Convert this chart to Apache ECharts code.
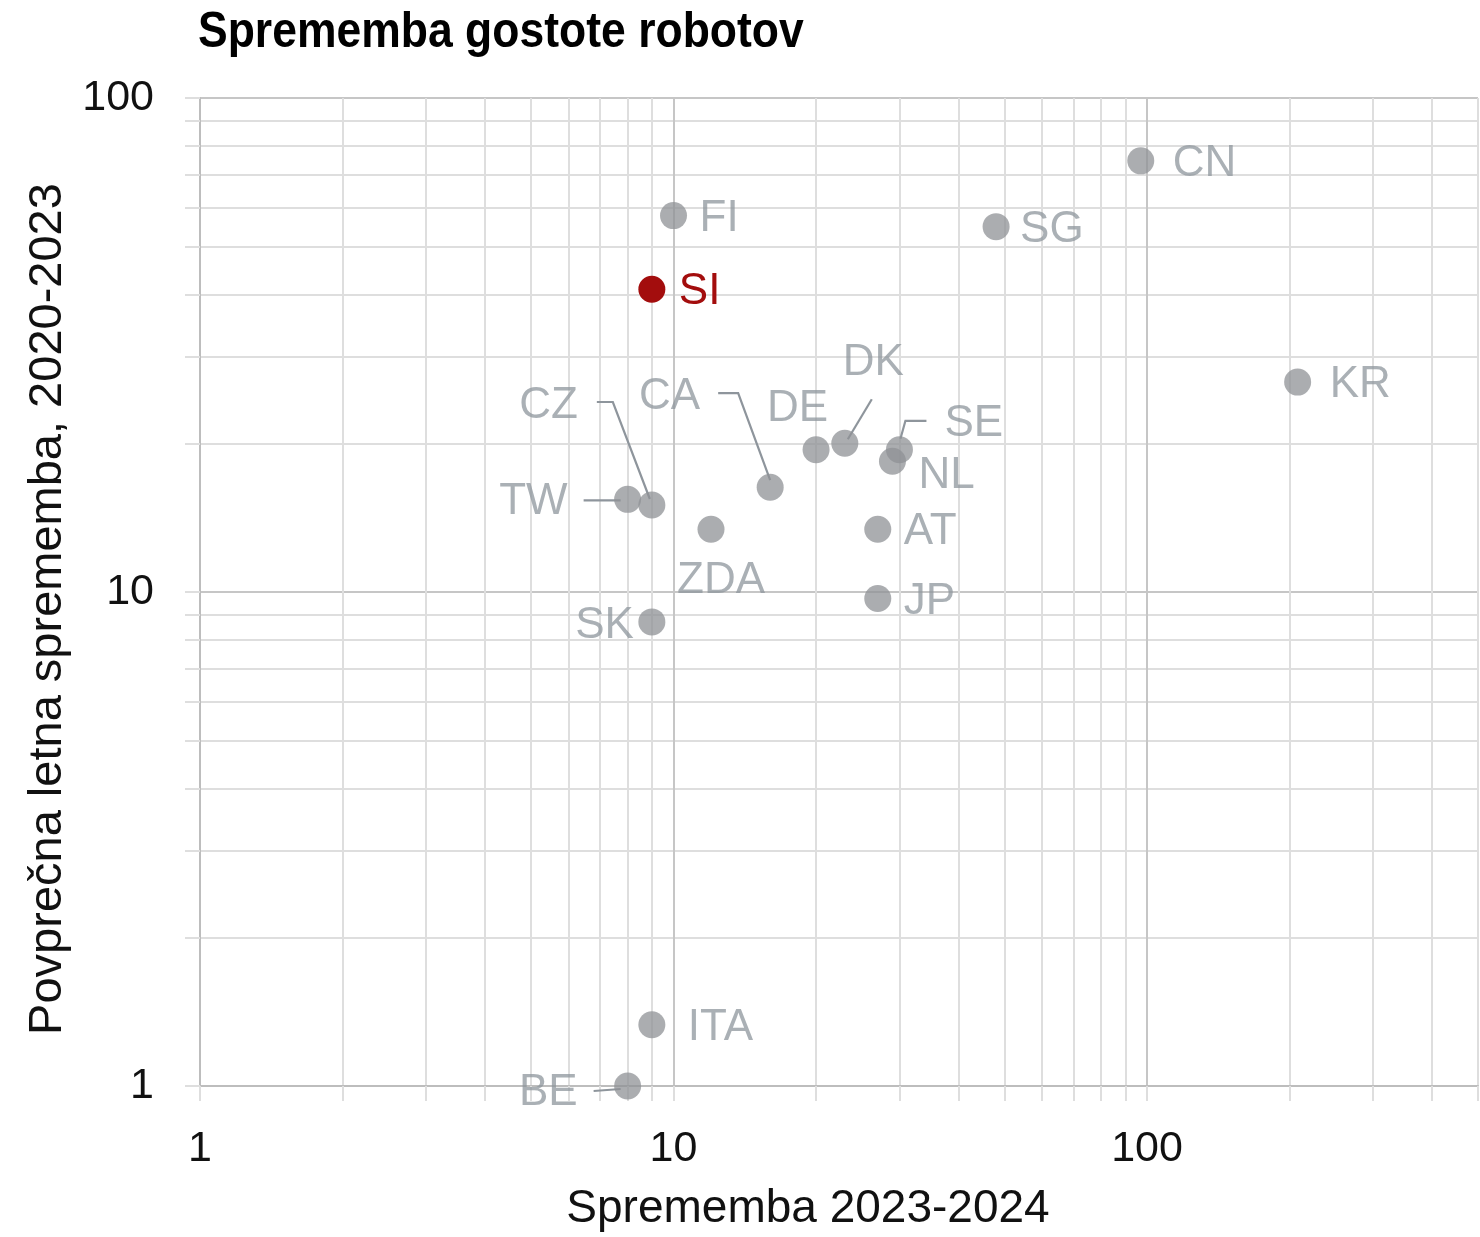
<!DOCTYPE html>
<html><head><meta charset="utf-8">
<script src="https://cdn.jsdelivr.net/npm/echarts@6/dist/echarts.min.js"></script>
<style>html,body{margin:0;padding:0;background:#fff}#c{width:1480px;height:1237px}</style>
</head><body><div id="c"></div>
<script>
// ---- data ----
const countries    = ['CN','SG','FI','SI','KR','DK','DE','SE','NL','CA','TW','CZ','ZDA','AT','JP','SK','ITA','BE'];
const change2324   = [97, 48, 10, 9, 208, 23, 20, 30, 29, 16, 8, 9, 12, 27, 27, 9, 9, 8];
const avgChange    = [74.6, 54.9, 57.8, 41.0, 26.6, 20.0, 19.4, 19.4, 18.4, 16.3, 15.4, 15.0, 13.4, 13.4, 9.7, 8.7, 1.33, 1.0];
const highlighted  = ['SI'];
const gridValuesX  = [1,2,3,4,5,6,7,8,9,10,20,30,40,50,60,70,80,90,100,200,300,400,500];
const gridValuesY  = [1,2,3,4,5,6,7,8,9,10,20,30,40,50,60,70,80,90,100];
const xTickLabels  = [1,10,100];
const yTickLabels  = [1,10,100];

// ---- styling (label placement in px relative to point centre) ----
const labelPlace = {
  CN:{align:'left',dx:32,dy:3}, SG:{align:'left',dx:24,dy:3}, FI:{align:'left',dx:26,dy:3},
  SI:{align:'left',dx:27,dy:3}, KR:{align:'left',dx:32,dy:3}, AT:{align:'left',dx:26,dy:3},
  JP:{align:'left',dx:26,dy:3}, ITA:{align:'left',dx:36,dy:3}, NL:{align:'left',dx:26,dy:15},
  SE:{align:'left',dx:45,dy:-26}, SK:{align:'right',dx:-18,dy:4}, TW:{align:'right',dx:-60,dy:2},
  BE:{align:'right',dx:-50,dy:7}, CZ:{align:'right',dx:-74,dy:-99}, CA:{align:'right',dx:-70,dy:-90},
  DE:{align:'right',dx:12,dy:-41}, DK:{align:'left',dx:-2,dy:-80}, ZDA:{align:'left',dx:-34,dy:52}
};
const leaders = {
  DK:[[27,-44],[3,-4]],
  SE:[[27,-29],[6,-29],[1,-11]],
  TW:[[-44,1],[-7,1]],
  CZ:[[-55,-103],[-39,-103],[-2,-6]],
  CA:[[-52,-94],[-32,-94],[0,-7]],
  BE:[[-34,5],[-7,3]]
};
const GRAY = '#8e959c';
const FONT = "'Liberation Sans', Arial, sans-serif";
const MAJOR = '#c6c6c6', MINOR = '#dedede';

const chart = echarts.init(document.getElementById('c'), null, {renderer:'canvas'});

const data = countries.map((c,i)=>{
  const hi = highlighted.includes(c);
  const lp = labelPlace[c];
  return {
    name:c, value:[change2324[i], avgChange[i]],
    itemStyle:{color: hi ? '#a30d0d' : '#8f9296', opacity: hi ? 1 : 0.75},
    label:{show:true, formatter:c, position:'inside', align:lp.align, verticalAlign:'middle',
      offset:[lp.dx, lp.dy], color: hi ? '#a30d0d' : GRAY, fontSize:44, fontFamily:FONT}
  };
});

const axisCommon = (name)=>({
  type:'log', logBase:10,
  axisLine:{show:true, onZero:false, lineStyle:{color:'#bdbdbd', width:2}},
  axisTick:{show:true, length:15, lineStyle:{color:MINOR, width:2}},
  splitLine:{show:true, lineStyle:{color:[MAJOR,MINOR,MINOR,MINOR,MINOR,MINOR,MINOR,MINOR,MINOR], width:2}},
  minorTick:{show:false}, minorSplitLine:{show:false},
  axisLabel:{fontSize:43, color:'#111', fontFamily:FONT},
  name:name, nameLocation:'middle',
  nameTextStyle:{fontSize:46, color:'#111', fontFamily:FONT}
});

const xA = axisCommon('Sprememba 2023-2024');
xA.min = 1; xA.max = 500;
xA.axisTick.customValues = gridValuesX;
xA.axisLabel.customValues = xTickLabels;
xA.axisLabel.margin = 42;
xA.nameGap = 100;
xA.nameTextStyle.padding = [0, 62, 0, 0];

const yA = axisCommon('Povprečna letna sprememba, 2020-2023');
yA.min = 1; yA.max = 100;
yA.axisTick.customValues = gridValuesY;
yA.axisLabel.customValues = yTickLabels;
yA.axisLabel.margin = 46;
yA.nameGap = 126;
yA.nameTextStyle.fontSize = 47;
yA.nameTextStyle.padding = [0, 34, 0, 0];

chart.setOption({
  animation:false,
  backgroundColor:'#fff',
  grid:{left:200, right:2, top:98, bottom:148, containLabel:false},
  xAxis:xA, yAxis:yA,
  series:[{type:'scatter', symbol:'circle', symbolSize:27, data:data, z:3}]
});

const gfx = [{
  type:'text', left:198, top:8, scaleX:0.89, z:10,
  style:{text:'Sprememba gostote robotov', fontSize:50, fontWeight:'bold', fill:'#000',
    fontFamily:"'Liberation Sans Narrow', 'Liberation Sans', sans-serif"}
}];
Object.keys(leaders).forEach(c=>{
  const i = countries.indexOf(c);
  const p = chart.convertToPixel({seriesIndex:0}, [change2324[i], avgChange[i]]);
  gfx.push({type:'polyline', z:2, silent:true,
    shape:{points: leaders[c].map(o=>[p[0]+o[0], p[1]+o[1]])},
    style:{stroke:GRAY, lineWidth:2.2, fill:null}});
});
chart.setOption({graphic:gfx});
</script></body></html>
